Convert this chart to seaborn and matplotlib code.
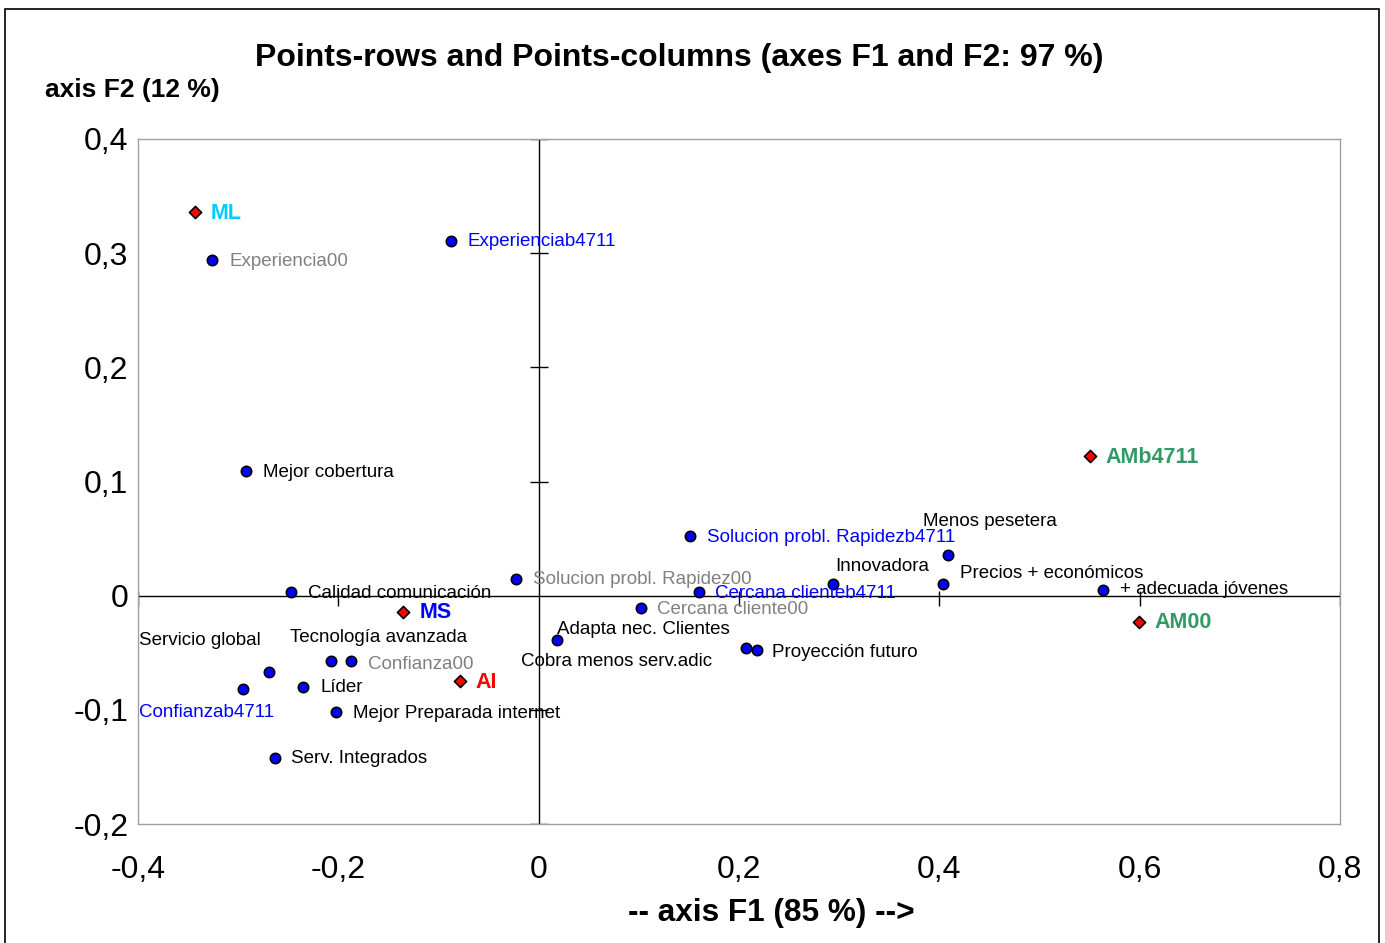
import matplotlib
matplotlib.use("Agg")
import matplotlib.pyplot as plt
import seaborn as sns
import pandas as pd
from matplotlib.patches import Rectangle

# ---- data: rows (blue circles) ----
row_labels = ["Experiencia00", "Experienciab4711", "Mejor cobertura", "Calidad comunicación",
              "Solucion probl. Rapidez00", "Solucion probl. Rapidezb4711", "Cercana clienteb4711",
              "Cercana cliente00", "Adapta nec. Clientes", "Cobra menos serv.adic", "Proyección futuro",
              "Innovadora", "Menos pesetera", "Precios + económicos", "+ adecuada jóvenes",
              "Servicio global", "Tecnología avanzada", "Confianza00", "Confianzab4711", "Líder",
              "Mejor Preparada internet", "Serv. Integrados"]
row_x = [-0.326, -0.088, -0.292, -0.247, -0.023, 0.151, 0.160, 0.102, 0.018, 0.207, 0.218,
         0.294, 0.409, 0.404, 0.563, -0.269, -0.207, -0.187, -0.295, -0.235, -0.202, -0.263]
row_y = [0.294, 0.311, 0.109, 0.003, 0.015, 0.052, 0.003, -0.011, -0.039, -0.046, -0.048,
         0.010, 0.036, 0.010, 0.005, -0.067, -0.057, -0.057, -0.082, -0.080, -0.102, -0.142]
row_group = ["00", "b4711", "", "", "00", "b4711", "b4711", "00", "", "", "",
             "", "", "", "", "", "", "00", "b4711", "", "", ""]

# ---- data: columns (red diamonds) ----
col_labels = ["ML", "MS", "AI", "AMb4711", "AM00"]
col_x = [-0.343, -0.135, -0.079, 0.550, 0.599]
col_y = [0.336, -0.014, -0.075, 0.122, -0.023]

x_ticks = [-0.4, -0.2, 0.0, 0.2, 0.4, 0.6, 0.8]
y_ticks = [-0.2, -0.1, 0.0, 0.1, 0.2, 0.3, 0.4]

# ---- styles / layout ----
group_color = {"00": "#808080", "b4711": "#0000FF", "": "#000000"}
col_color = {"ML": "#00CCFF", "MS": "#0000FF", "AI": "#FF0000", "AMb4711": "#339966", "AM00": "#339966"}
row_offsets = [(17, -1), (17, -1), (17, -1), (17, -1), (17, -1), (17, -1), (16, -1), (16, -1),
               (0, 11), (-225, -13), (15, -2), (2, 18), (-25, 33), (17, 11), (17, 0),
               (-130, 32), (-41, 23), (17, -4), (-104, -23), (17, 0), (17, -1), (16, -1)]
col_offset = (16, -1)

W, H = 1385, 943
sns.set_style("white")
plt.rcParams['font.family'] = ['Liberation Sans', 'DejaVu Sans']
plt.rcParams['text.color'] = 'black'
plt.rcParams['xtick.color'] = 'black'
plt.rcParams['ytick.color'] = 'black'

fig = plt.figure(figsize=(W / 100, H / 100), dpi=100)
ax = fig.add_axes([138 / W, 1 - 824 / H, (1340 - 138) / W, (824 - 139) / H])

ax.set_xlim(-0.4, 0.8)
ax.set_ylim(-0.2, 0.4)

# zero axes with small ticks
ax.axhline(0, color="black", lw=1, zorder=1)
ax.axvline(0, color="black", lw=1, zorder=1)
ax.vlines([t for t in x_ticks if t != 0], -0.009, 0.004, color="black", lw=1, zorder=1)
ax.hlines([t for t in y_ticks if t != 0], -0.009, 0.009, color="black", lw=1, zorder=1)

rows = pd.DataFrame({"x": row_x, "y": row_y, "label": row_labels, "group": row_group})
cols = pd.DataFrame({"x": col_x, "y": col_y, "label": col_labels})

sns.scatterplot(data=rows, x="x", y="y", ax=ax, color="#0000FF", edgecolor="black",
                linewidth=1.2, s=55, marker="o", zorder=3, legend=False)
sns.scatterplot(data=cols, x="x", y="y", ax=ax, color="#FF0000", edgecolor="black",
                linewidth=1.2, s=38, marker="D", zorder=3, legend=False)

for (lab, x, y, g), off in zip(zip(row_labels, row_x, row_y, row_group), row_offsets):
    ax.annotate(lab, (x, y), xytext=off, textcoords="offset pixels", fontsize=13.5,
                color=group_color[g], ha="left", va="center", zorder=4)
for lab, x, y in zip(col_labels, col_x, col_y):
    ax.annotate(lab, (x, y), xytext=col_offset, textcoords="offset pixels", fontsize=15.5,
                fontweight="bold", color=col_color[lab], ha="left", va="center", zorder=4)

ax.set_xticks(x_ticks)
ax.set_yticks(y_ticks)
fmt = lambda v: ("%g" % v).replace(".", ",")
ax.set_xticklabels([fmt(v) for v in x_ticks], fontsize=23)
ax.set_yticklabels([fmt(v) for v in y_ticks], fontsize=23)
ax.tick_params(axis="x", length=0, pad=22)
ax.tick_params(axis="y", length=0, pad=7)
ax.set_xlabel("")
ax.set_ylabel("")
for sp in ax.spines.values():
    sp.set_color("#A0A0A0")
    sp.set_linewidth(1)

fig.text(679 / W, 1 - 58 / H, "Points-rows and Points-columns (axes F1 and F2: 97 %)",
         fontsize=23, fontweight="bold", ha="center", va="center")
fig.text(45 / W, 1 - 90 / H, "axis F2 (12 %)", fontsize=19, fontweight="bold",
         ha="left", va="center")
fig.text(771 / W, 1 - 913 / H, "-- axis F1 (85 %) -->", fontsize=22.7, fontweight="bold",
         ha="center", va="center")

fig.patches.append(Rectangle((5 / W, -0.01), (1379 - 5) / W, 1 - 9 / H + 0.01,
                             transform=fig.transFigure, fill=False, edgecolor="black", lw=1.2))

fig.savefig("out.png", dpi=100)
